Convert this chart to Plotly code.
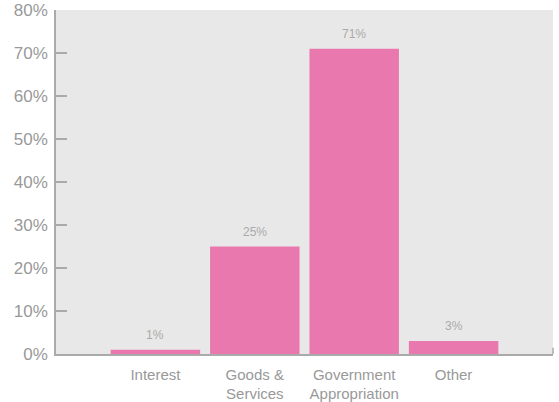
import plotly.graph_objects as go

categories = ["Interest", "Goods &<br>Services", "Government<br>Appropriation", "Other"]
values = [1, 25, 71, 3]
value_labels = ["1%", "25%", "71%", "3%"]
y_ticks = [0, 10, 20, 30, 40, 50, 60, 70, 80]
y_tick_labels = ["0%", "10%", "20%", "30%", "40%", "50%", "60%", "70%", "80%"]

FONT = "Liberation Sans, Arial, sans-serif"

fig = go.Figure()
fig.add_trace(go.Bar(
    x=categories, y=values, width=0.9,
    marker=dict(color="#E878AE", line=dict(width=0)),
    hoverinfo="skip",
))

for c, v, t in zip(categories, values, value_labels):
    fig.add_annotation(x=c, y=v, text=t, showarrow=False, yshift=15,
                       font=dict(family=FONT, size=12, color="#aaaaaa"))

# small tick at the right end of the baseline
fig.add_shape(type="line", xref="paper", yref="paper", x0=1, x1=1, y0=0, y1=0.018,
              line=dict(color="#aaaaaa", width=1.5))

fig.update_layout(
    width=559, height=402,
    margin=dict(l=56, r=6, t=10, b=48, autoexpand=False),
    paper_bgcolor="white", plot_bgcolor="#e8e8e8",
    showlegend=False,
    font=dict(family=FONT, color="#999999"),
    bargap=0.1,
)
fig.update_xaxes(
    range=[-1, 4], showgrid=False, zeroline=False, automargin=False,
    showline=True, linecolor="#aaaaaa", linewidth=1.5,
    ticks="", tickfont=dict(size=15, color="#999999"),
    ticklabelstandoff=6,
)
fig.update_yaxes(
    range=[0, 80], tickvals=y_ticks, ticktext=y_tick_labels,
    showgrid=False, zeroline=False, automargin=False,
    showline=True, linecolor="#aaaaaa", linewidth=1.5,
    ticks="inside", ticklen=11, tickcolor="#aaaaaa", tickwidth=1.5,
    tickfont=dict(size=17, color="#999999"),
    ticklabelstandoff=3,
)

fig.write_html("out.html")
